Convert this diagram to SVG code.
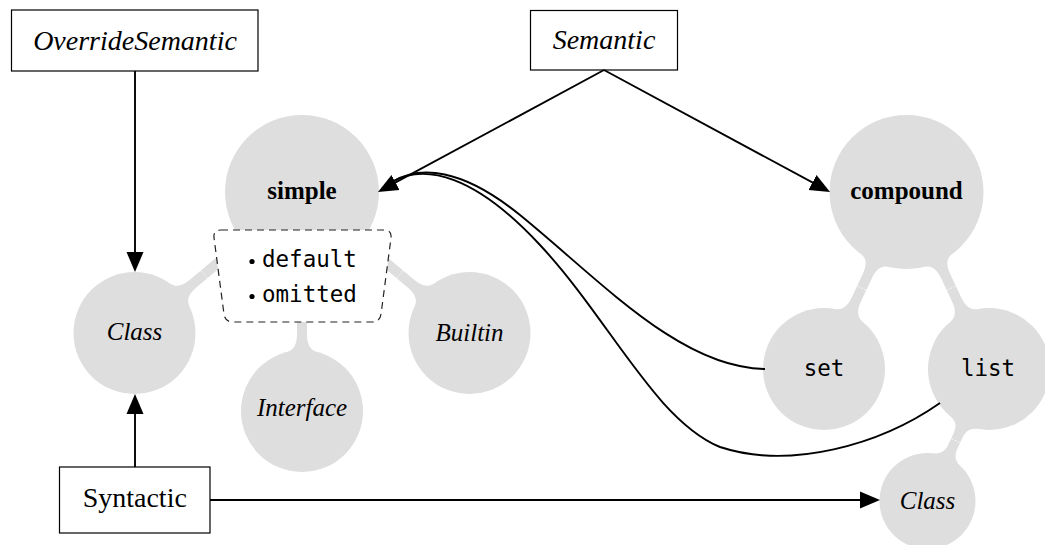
<svg xmlns="http://www.w3.org/2000/svg" width="1045" height="545" viewBox="0 0 1045 545">
<style>
.blob{fill:#dedede}
.seam{stroke:#ffffff;stroke-width:1;stroke-opacity:0.8;stroke-dasharray:2 1.5}
.box{fill:#ffffff;stroke:#000000;stroke-width:1.2}
.dash{fill:#ffffff;stroke:#222222;stroke-width:1.2;stroke-dasharray:7 5}
.edge{fill:none;stroke:#000000;stroke-width:1.9}
.lbl{font-family:"Liberation Serif","Times New Roman",serif;fill:#000;text-anchor:middle}
.big{font-size:28px}
.node{font-size:25px}
.it{font-style:italic}
.bold{font-weight:bold}
.mono{font-family:"DejaVu Sans Mono","Liberation Mono",monospace;font-size:22.5px;fill:#000}
</style>
<defs>
<marker id="arrow" markerUnits="userSpaceOnUse" markerWidth="20" markerHeight="18" viewBox="0 0 20 18" refX="12" refY="9" orient="auto">
<path d="M0,0.5 L20,9 L0,17.5 Z" fill="#000"/>
</marker>
</defs>

<g id="blob-links">
<path class="blob" d="M 189.39 306.40 C 185.91 299.20, 189.89 292.91, 196.63 287.24 L 252.47 240.23 L 246.03 232.57 L 190.19 279.58 C 183.45 285.25, 176.57 288.10, 170.07 283.44 Z"/>
<path class="blob" d="M 414.61 306.40 C 418.09 299.20, 414.11 292.91, 407.37 287.24 L 351.53 240.23 L 357.97 232.57 L 413.81 279.58 C 420.55 285.25, 427.43 288.10, 433.93 283.44 Z"/>
<path class="blob" d="M 317 351.87 C 309.25 349.9, 307 342.8, 307 334 L 307 300 L 297 300 L 297 334 C 297 342.8, 294.75 349.9, 287 351.87 Z"/>
<path class="blob" d="M 888.19 266.78 C 880.42 264.88, 875.46 270.42, 871.75 278.40 L 861.05 301.32 C 857.34 309.30, 856.38 316.69, 862.57 321.75 L 835.39 309.07 C 843.24 310.57, 848.28 305.08, 851.99 297.10 L 862.69 274.18 C 866.40 266.20, 867.46 258.84, 861.01 254.10 Z"/>
<path class="blob" d="M 924.81 266.78 C 932.58 264.88, 937.54 270.42, 941.25 278.40 L 951.95 301.32 C 955.66 309.30, 956.62 316.69, 950.43 321.75 L 977.61 309.07 C 969.76 310.57, 964.72 305.08, 961.01 297.10 L 950.31 274.18 C 946.60 266.20, 945.54 258.84, 951.99 254.10 Z"/>
<path class="blob" d="M 977.62 428.95 C 969.76 427.45, 965.48 431.31, 962.69 437.29 L 957.37 448.71 C 954.59 454.70, 954.53 460.52, 960.36 466.0 L 933.16 453.32 C 941.11 454.26, 945.53 450.48, 948.31 444.49 L 953.63 433.07 C 956.42 427.09, 956.62 421.33, 950.42 416.27 Z"/>
<line class="seam" x1="209.25" y1="280.5" x2="198.95" y2="268.3"/>
<line class="seam" x1="394.75" y1="280.5" x2="405.05" y2="268.3"/>
<line class="seam" x1="868.95" y1="291.48" x2="854.45" y2="284.72"/>
<line class="seam" x1="944.05" y1="291.48" x2="958.55" y2="284.72"/>
<line class="seam" x1="962.85" y1="443.98" x2="948.35" y2="437.22"/>
</g>

<g id="simple">
<circle class="blob" cx="302" cy="192" r="77"/>
<text class="lbl node bold" x="302" y="199">simple</text>
</g>

<g id="class-left">
<circle class="blob" cx="134.5" cy="333" r="61"/>
<text class="lbl node it" x="134.5" y="340">Class</text>
</g>

<g id="interface">
<circle class="blob" cx="302" cy="411" r="61"/>
<text class="lbl node it" x="302" y="416">Interface</text>
</g>

<g id="builtin">
<circle class="blob" cx="469.5" cy="333" r="61"/>
<text class="lbl node it" x="469.5" y="341">Builtin</text>
</g>

<g id="simple-variants">
<path class="dash" d="M 221 230 H 384 Q 392 230 391 238 L 381.04 314 Q 380 322 372 322 H 233 Q 225 322 223.96 314 L 214.04 238 Q 213 230 221 230 Z"/>
<circle cx="252" cy="261.5" r="2.6" fill="#000"/>
<text class="mono" x="262" y="267">default</text>
<circle cx="252" cy="296.5" r="2.6" fill="#000"/>
<text class="mono" x="262" y="302">omitted</text>
</g>

<g id="compound">
<circle class="blob" cx="906.5" cy="192" r="77"/>
<text class="lbl node bold" x="906.5" y="199">compound</text>
</g>

<g id="set">
<circle class="blob" cx="824" cy="369" r="61"/>
<text class="mono" x="824" y="376" text-anchor="middle">set</text>
</g>

<g id="list">
<circle class="blob" cx="989" cy="369" r="61"/>
<text class="mono" x="988" y="376" text-anchor="middle">list</text>
</g>

<g id="class-right">
<circle class="blob" cx="927.5" cy="501" r="48"/>
<text class="lbl node it" x="927.5" y="509">Class</text>
</g>

<g id="override-semantic">
<rect class="box" x="11.5" y="10" width="246.5" height="61"/>
<text class="lbl big it" x="135" y="50">OverrideSemantic</text>
</g>

<g id="semantic">
<rect class="box" x="530.5" y="10.5" width="147" height="59.5"/>
<text class="lbl big it" x="604" y="49">Semantic</text>
</g>

<g id="syntactic">
<rect class="box" x="59.5" y="467" width="150.5" height="66"/>
<text class="lbl big" x="134.75" y="507">Syntactic</text>
</g>

<g id="connectors">
<path class="edge" d="M 135 71 V 264" marker-end="url(#arrow)"/>
<path class="edge" d="M 135 467 V 402" marker-end="url(#arrow)"/>
<path class="edge" d="M 210 500 H 872" marker-end="url(#arrow)"/>
<path class="edge" d="M 604 70 L 385.0 188.2" marker-end="url(#arrow)"/>
<path class="edge" d="M 604 70 L 823 188.2" marker-end="url(#arrow)"/>
<path class="edge" d="M 765 369 C 680 368, 600 280, 520 215 C 462 168, 420 165, 392 182"/>
<path class="edge" d="M 940 403 C 880 445, 790 470, 720 447 C 655 420, 610 320, 540 245 C 475 175, 425 163, 392 182"/>
</g>
</svg>
